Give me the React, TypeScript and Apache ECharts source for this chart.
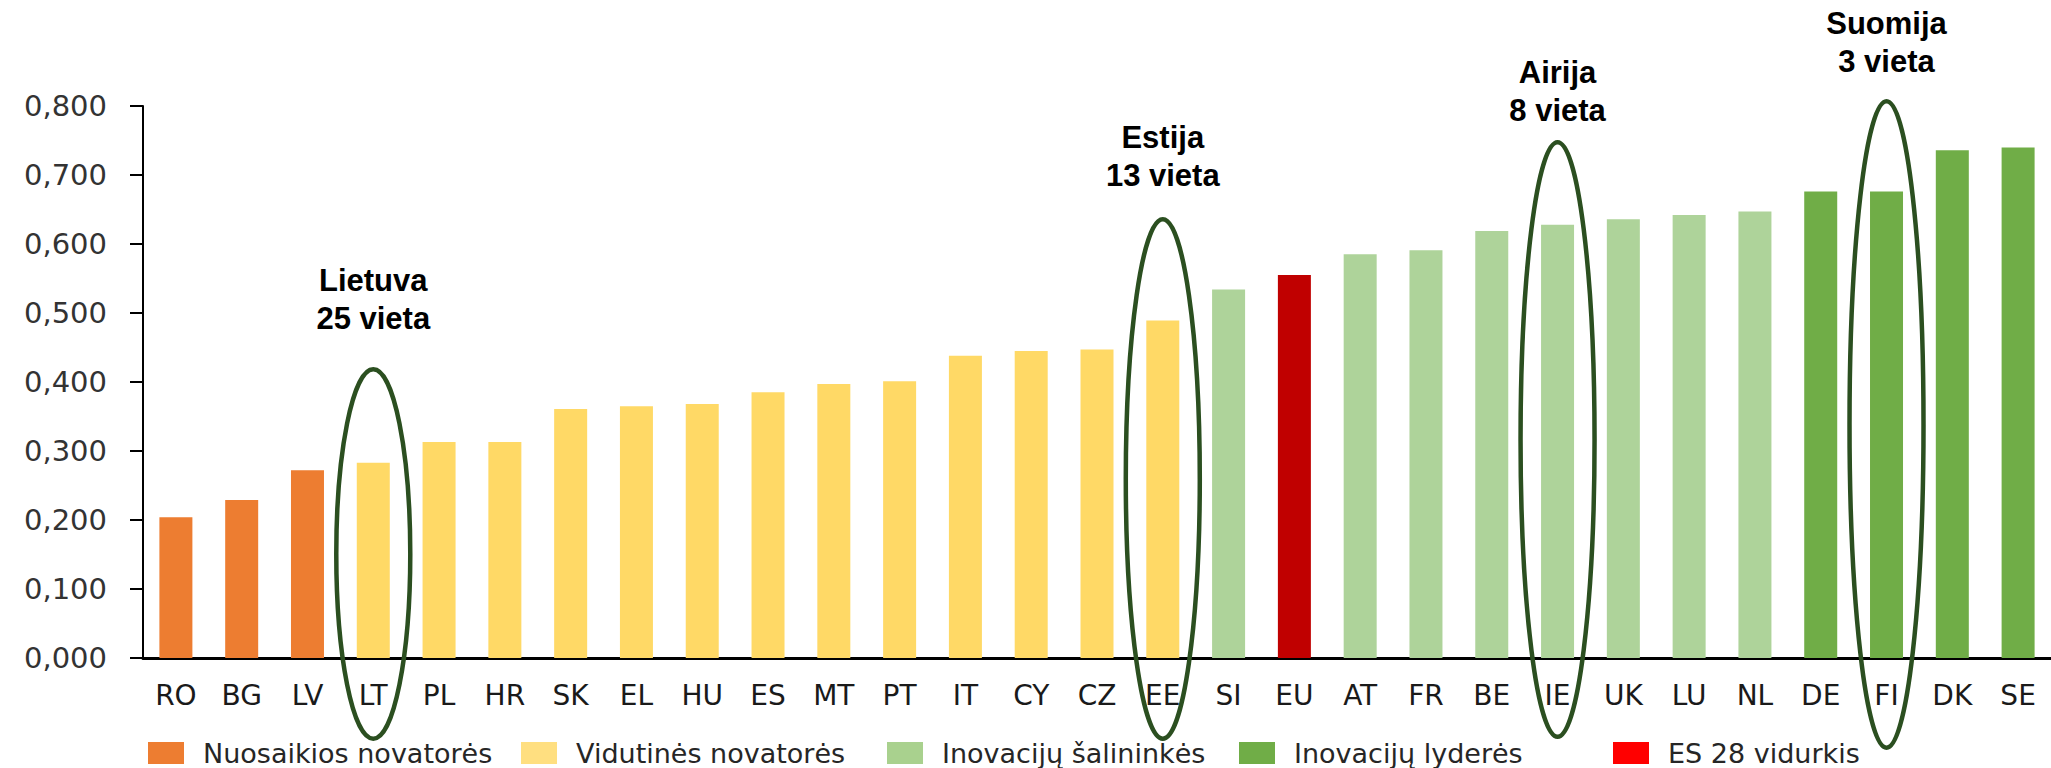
import React, { useEffect, useRef } from "react";
import * as echarts from "echarts";

const categories = ["RO", "BG", "LV", "LT", "PL", "HR", "SK", "EL", "HU", "ES", "MT", "PT", "IT", "CY", "CZ", "EE", "SI", "EU", "AT", "FR", "BE", "IE", "UK", "LU", "NL", "DE", "FI", "DK", "SE"];
const values = [0.204, 0.229, 0.272, 0.283, 0.313, 0.313, 0.361, 0.365, 0.368, 0.385, 0.397, 0.401, 0.438, 0.445, 0.447, 0.489, 0.534, 0.555, 0.585, 0.591, 0.619, 0.628, 0.636, 0.642, 0.647, 0.676, 0.676, 0.736, 0.740];
// group index for each category
const groups = [0, 0, 0, 1, 1, 1, 1, 1, 1, 1, 1, 1, 1, 1, 1, 1, 2, 4, 2, 2, 2, 2, 2, 2, 2, 3, 3, 3, 3];
const groupNames = ["Nuosaikios novatorės", "Vidutinės novatorės", "Inovacijų šalininkės", "Inovacijų lyderės", "ES 28 vidurkis"];
const barColors = ["#ED7D31", "#FFD966", "#AED39A", "#70AD47", "#C00000"];
const legendColors = ["#ED7D31", "#FFDF80", "#A9D18E", "#70AD47", "#FF0000"];
const legendLefts = [148, 521, 887, 1239, 1613];

// highlighted countries: label lines, label cap-top y, ellipse top / bottom y (pixels)
const highlights = [
  { cat: "LT", lines: ["Lietuva", "25 vieta"], labelTop: 272, top: 367, bottom: 741 },
  { cat: "EE", lines: ["Estija", "13 vieta"], labelTop: 129, top: 217, bottom: 741 },
  { cat: "IE", lines: ["Airija", "8 vieta"], labelTop: 64, top: 140, bottom: 739 },
  { cat: "FI", lines: ["Suomija", "3 vieta"], labelTop: 15, top: 99, bottom: 750 },
];

const W = 2051;
const H = 768;

export default function App() {
  const ref = useRef<HTMLDivElement>(null);

  useEffect(() => {
    if (!ref.current) return;
    const chart = echarts.init(ref.current, undefined, { renderer: "svg" });

    const series = groupNames.map((name, g) => ({
      name,
      type: "bar",
      stack: "all",
      barWidth: 33,
      itemStyle: { color: barColors[g] },
      data: values.map((v, i) => (groups[i] === g ? v : null)),
    }));

    const legends = groupNames.map((name, g) => ({
      show: true,
      left: legendLefts[g],
      top: 739,
      orient: "horizontal",
      icon: "rect",
      itemWidth: 36,
      itemHeight: 22,
      padding: 0,
      selectedMode: false,
      data: [{ name, itemStyle: { color: legendColors[g] } }],
      textStyle: {
        fontFamily: "DejaVu Sans",
        fontSize: 27,
        color: "#262626",
        lineHeight: 28,
        padding: [0, 0, 0, 14],
      },
    }));

    chart.setOption({
      animation: false,
      backgroundColor: "#ffffff",
      grid: { left: 143, top: 106, width: 1910, height: 552, containLabel: false },
      legend: legends,
      xAxis: {
        type: "category",
        data: categories,
        axisTick: { show: false },
        axisLine: { show: true, lineStyle: { color: "#000000", width: 3 } },
        axisLabel: {
          fontFamily: "DejaVu Sans",
          fontSize: 28,
          color: "#1a1a1a",
          margin: 23,
          interval: 0,
        },
      },
      yAxis: {
        type: "value",
        min: 0,
        max: 0.8,
        interval: 0.1,
        splitLine: { show: false },
        axisLine: { show: true, lineStyle: { color: "#000000", width: 2 } },
        axisTick: { show: true, length: 13, lineStyle: { color: "#000000", width: 2 } },
        axisLabel: {
          fontFamily: "DejaVu Sans",
          fontSize: 29,
          color: "#333333",
          margin: 36,
          formatter: (v: number) => v.toFixed(3).replace(".", ","),
        },
      },
      series,
    });

    const graphics: any[] = [];
    highlights.forEach((h) => {
      const cx = chart.convertToPixel({ xAxisIndex: 0 }, h.cat) as number;
      const sw = 4.5;
      graphics.push({
        type: "ellipse",
        z: 100,
        shape: { cx, cy: (h.top + h.bottom) / 2, rx: 37, ry: (h.bottom - h.top) / 2 - sw / 2 },
        style: { fill: "none", stroke: "#2B4F20", lineWidth: sw },
        silent: true,
      });
      graphics.push({
        type: "text",
        z: 100,
        x: cx,
        y: h.labelTop - 11,
        style: {
          text: h.lines.join("\n"),
          fontFamily: "Liberation Sans, Arial, sans-serif",
          fontWeight: "bold",
          fontSize: 31,
          lineHeight: 38,
          fill: "#000000",
          align: "center",
          verticalAlign: "top",
        },
        silent: true,
      });
    });
    chart.setOption({ graphic: graphics });

    return () => {
      chart.dispose();
    };
  }, []);

  return (
    <div
      ref={ref}
      style={{ position: "fixed", left: 0, top: 0, width: W, height: H, background: "#fff" }}
    />
  );
}
